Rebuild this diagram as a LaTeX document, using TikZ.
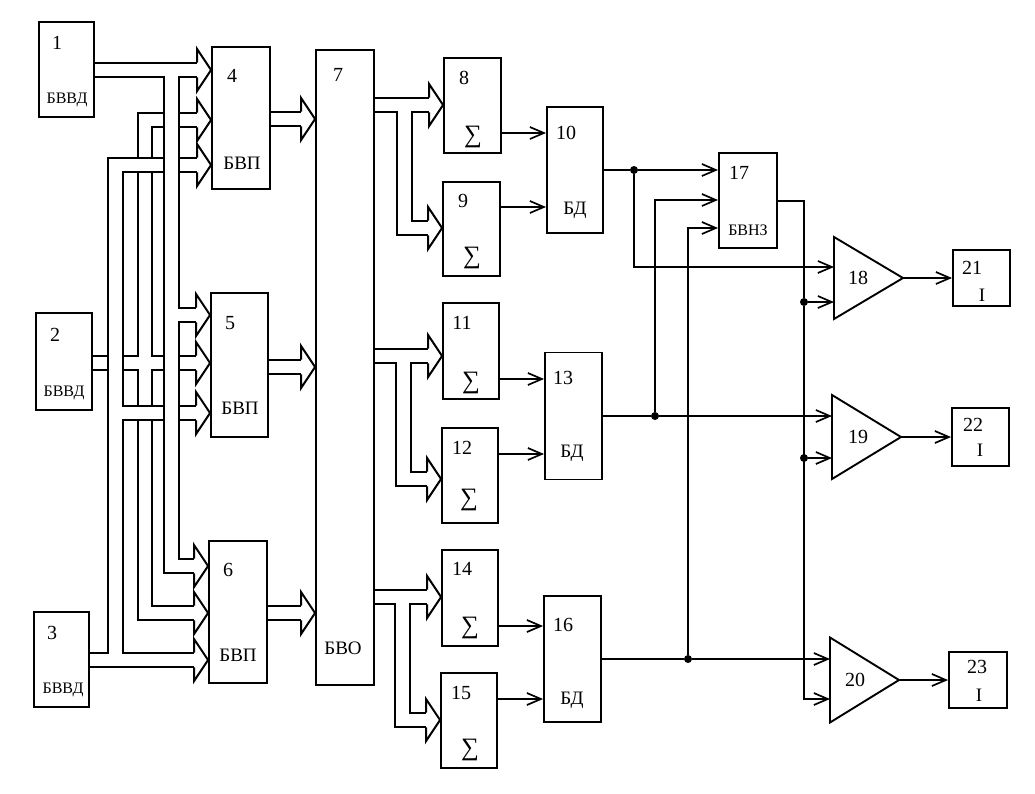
\documentclass[tikz,border=0pt]{standalone}
\usepackage{fontspec}
\setmainfont{Liberation Serif}
\usetikzlibrary{calc,arrows.meta}

\newcommand\busnet[1]{%
  \foreach \p in {#1}{\draw[busout] \p;}%
  \foreach \p in {#1}{\draw[busin] \p;}}

\begin{document}
\begin{tikzpicture}[x=1pt,y=-1pt,
    blk/.style 2 args={draw, line width=1.9pt, inner sep=0pt, minimum width=#1, minimum height=#2},
    busout/.style={line width=16.6pt, shorten >=14pt},
    busin/.style={white, line width=12.6pt, shorten >=14pt},
    bushd/.style={line width=2pt, line join=miter},
    amp/.style={line width=1.9pt, line join=miter},
    sig/.style={line width=1.7pt, -{Straight Barb[length=14pt,width=12pt]}},
    wire/.style={line width=1.7pt},
    dot/.style={circle, fill, inner sep=0pt, minimum size=8pt},
    num/.style={font=\fontsize{20}{22}\selectfont},
    sml/.style={font=\fontsize{16}{18}\selectfont},
    big/.style={font=\fontsize{19}{21}\selectfont},
    sgm/.style={font=\fontsize{25}{27}\selectfont}]
        \useasboundingbox (0,0) rectangle (1035,793);

        % blocks
        \node[blk={55}{95}] (b1) at (66.5,69.5) {};
        \node[blk={56}{97}] (b2) at (64,361.5) {};
        \node[blk={55}{95}] (b3) at (61.5,659.5) {};
        \node[blk={58}{142}] (b4) at (241,118) {};
        \node[blk={57}{144}] (b5) at (239.5,365) {};
        \node[blk={58}{142}] (b6) at (238,612) {};
        \node[blk={58}{635}] (b7) at (345,367.5) {};
        \node[blk={57}{95}] (b8) at (472.5,105.5) {};
        \node[blk={57}{94}] (b9) at (471.5,229) {};
        \node[blk={56}{126}] (b10) at (575,170) {};
        \node[blk={56}{96}] (b11) at (471,351) {};
        \node[blk={56}{95}] (b12) at (470,475.5) {};
        \node[blk={57}{127}] (b13) at (573.5,416) {};
        \node[blk={56}{96}] (b14) at (470,598) {};
        \node[blk={56}{95}] (b15) at (469,720.5) {};
        \node[blk={57}{126}] (b16) at (572.5,659) {};
        \node[blk={58}{95}] (b17) at (748,200.5) {};
        \node[blk={57}{56}] (b21) at (981.5,278) {};
        \node[blk={57}{58}] (b22) at (980.5,437) {};
        \node[blk={58}{56}] (b23) at (978,680) {};

        \foreach \n/\x/\y in {1/57/43, 2/55/335, 3/52/633, 4/232/76, 5/230/323, 6/228/570,
            7/338/75, 8/464/78, 9/463/201, 10/566/133, 11/462/323, 12/462/448, 13/563/378,
            14/462/569, 15/461/693, 16/563/625, 17/739/173, 18/858/278, 19/858/437,
            20/855/680, 21/972/268, 22/973/425, 23/977/667}
            \node[num] (l\n) at (\x,\y) {\n};
        \foreach \n/\x/\y/\t in {1/67/100/БВВД, 2/64/393/БВВД, 3/63/690/БВВД, 17/748/230/БВНЗ}
            \node[sml] (s\n) at (\x,\y) {\t};
        \foreach \n/\x/\y/\t in {4/242/163/БВП, 5/240/408/БВП, 6/238/655/БВП, 7/343/648/БВО,
            10/575/210/БД, 13/572/453/БД, 16/572/700/БД, 21/982/295/I, 22/980/450/I, 23/979/695/I}
            \node[big] (s\n) at (\x,\y) {\t};
        \foreach \n/\x/\y in {8/473/137, 9/472/258, 11/471/383, 12/469/500, 14/470/628, 15/470/750}
            \node[sgm] (s\n) at (\x,\y) {∑};

        % bus inputs
        \coordinate (t4a) at (b4.west |- 0,70);
        \coordinate (t4b) at (b4.west |- 0,120);
        \coordinate (t4c) at (b4.west |- 0,165);
        \coordinate (t5a) at (b5.west |- 0,315);
        \coordinate (t5b) at (b5.west |- 0,363);
        \coordinate (t5c) at (b5.west |- 0,413);
        \coordinate (t6a) at (b6.west |- 0,566);
        \coordinate (t6b) at (b6.west |- 0,613);
        \coordinate (t6c) at (b6.west |- 0,660);
        \coordinate (t7a) at (b7.west |- 0,119);
        \coordinate (t7b) at (b7.west |- 0,367);
        \coordinate (t7c) at (b7.west |- 0,613);
        \coordinate (t8) at (b8.west |- 0,105);
        \coordinate (t9) at (b9.west |- 0,228);
        \coordinate (t11) at (b11.west |- 0,356);
        \coordinate (t12) at (b12.west |- 0,479);
        \coordinate (t14) at (b14.west |- 0,597);
        \coordinate (t15) at (b15.west |- 0,720);
        \coordinate (busA) at (115.5,0);
        \coordinate (busB) at (145,0);
        \coordinate (busC) at (171.5,0);
        \coordinate (br8) at (404.5,0);
        \coordinate (br11) at (403.5,0);
        \coordinate (br14) at (402.5,0);

        % buses
        \busnet{{(b2.east |- t5b) -- (t5b)},
            {(busB |- t5b) -- (busB |- t4b) -- (t4b)},
            {(busB |- t5b) -- (busB |- t6b) -- (t6b)}}
        \busnet{{(b3.east |- t6c) -- (t6c)},
            {(busA |- t6c) -- (busA |- t4c) -- (t4c)},
            {(busA |- t5c) -- (t5c)}}
        \busnet{{(b1.east |- t4a) -- (t4a)},
            {(busC |- t4a) -- (busC |- t6a) -- (t6a)},
            {(busC |- t5a) -- (t5a)}}
        \busnet{{(b4.east |- t7a) -- (t7a)}}
        \busnet{{(b5.east |- t7b) -- (t7b)}}
        \busnet{{(b6.east |- t7c) -- (t7c)}}
        \busnet{{(b7.east |- t8) -- (t8)}, {(br8 |- t8) -- (br8 |- t9) -- (t9)}}
        \busnet{{(b7.east |- t11) -- (t11)}, {(br11 |- t11) -- (br11 |- t12) -- (t12)}}
        \busnet{{(b7.east |- t14) -- (t14)}, {(br14 |- t14) -- (br14 |- t15) -- (t15)}}

        \foreach \t in {t4a,t4b,t4c,t5a,t5b,t5c,t6a,t6b,t6c,t7a,t7b,t7c,t8,t9,t11,t12,t14,t15}
            \draw[bushd] (\t) ++(-14,-7.3) -- ++(0,-13.7) -- ++(14,21) -- ++(-14,21) -- ++(0,-13.7);

        % sum outputs
        \draw[sig] (b8.east |- 0,133) -- (b10.west |- 0,133);
        \draw[sig] (b9.east |- 0,207) -- (b10.west |- 0,207);
        \draw[sig] (b11.east |- 0,379) -- (b13.west |- 0,379);
        \draw[sig] (b12.east |- 0,454) -- (b13.west |- 0,454);
        \draw[sig] (b14.east |- 0,626) -- (b16.west |- 0,626);
        \draw[sig] (b15.east |- 0,699) -- (b16.west |- 0,699);

        % amplifiers
        \coordinate (a18) at (834,278);
        \coordinate (a19) at (832,437);
        \coordinate (a20) at (830,680);
        \draw[amp] (a18) ++(0,-41) -- ++(69,41) -- ++(-69,41) -- cycle;
        \draw[amp] (a19) ++(0,-42) -- ++(69,42) -- ++(-69,42) -- cycle;
        \draw[amp] (a20) ++(0,-42.5) -- ++(69,42.5) -- ++(-69,42.5) -- cycle;
        \coordinate (i18a) at (834,267);
        \coordinate (i18b) at (834,302);
        \coordinate (o18) at (903,278);
        \coordinate (i19a) at (832,416);
        \coordinate (i19b) at (832,458);
        \coordinate (o19) at (901,437);
        \coordinate (i20a) at (830,659);
        \coordinate (i20b) at (830,699);
        \coordinate (o20) at (899,680);
        \coordinate (i17b) at (b17.west |- 0,200);
        \coordinate (i17c) at (b17.west |- 0,228);
        \coordinate (o17) at (b17.east |- 0,201);

        \node[dot] (d10) at (634,170) {};
        \node[dot] (d13) at (655,416) {};
        \node[dot] (d16) at (688,659) {};
        \node[dot] (d18) at (804,302) {};
        \node[dot] (d19) at (804,458) {};

        \draw[wire] (b10.east) -- (d10);
        \draw[sig] (d10) -- (b17.west |- d10);
        \draw[sig] (d10) |- (i18a);
        \draw[wire] (b13.east) -- (d13);
        \draw[sig] (d13) -- (i19a);
        \draw[sig] (d13) |- (i17b);
        \draw[wire] (b16.east) -- (d16);
        \draw[sig] (d16) -- (i20a);
        \draw[sig] (d16) |- (i17c);
        \draw[sig] (o17) -| (d18) |- (i20b);
        \draw[sig] (d18) -- (i18b);
        \draw[sig] (d19) -- (i19b);
        \draw[sig] (o18) -- (b21.west);
        \draw[sig] (o19) -- (b22.west);
        \draw[sig] (o20) -- (b23.west);
    \end{tikzpicture}
\end{document}
